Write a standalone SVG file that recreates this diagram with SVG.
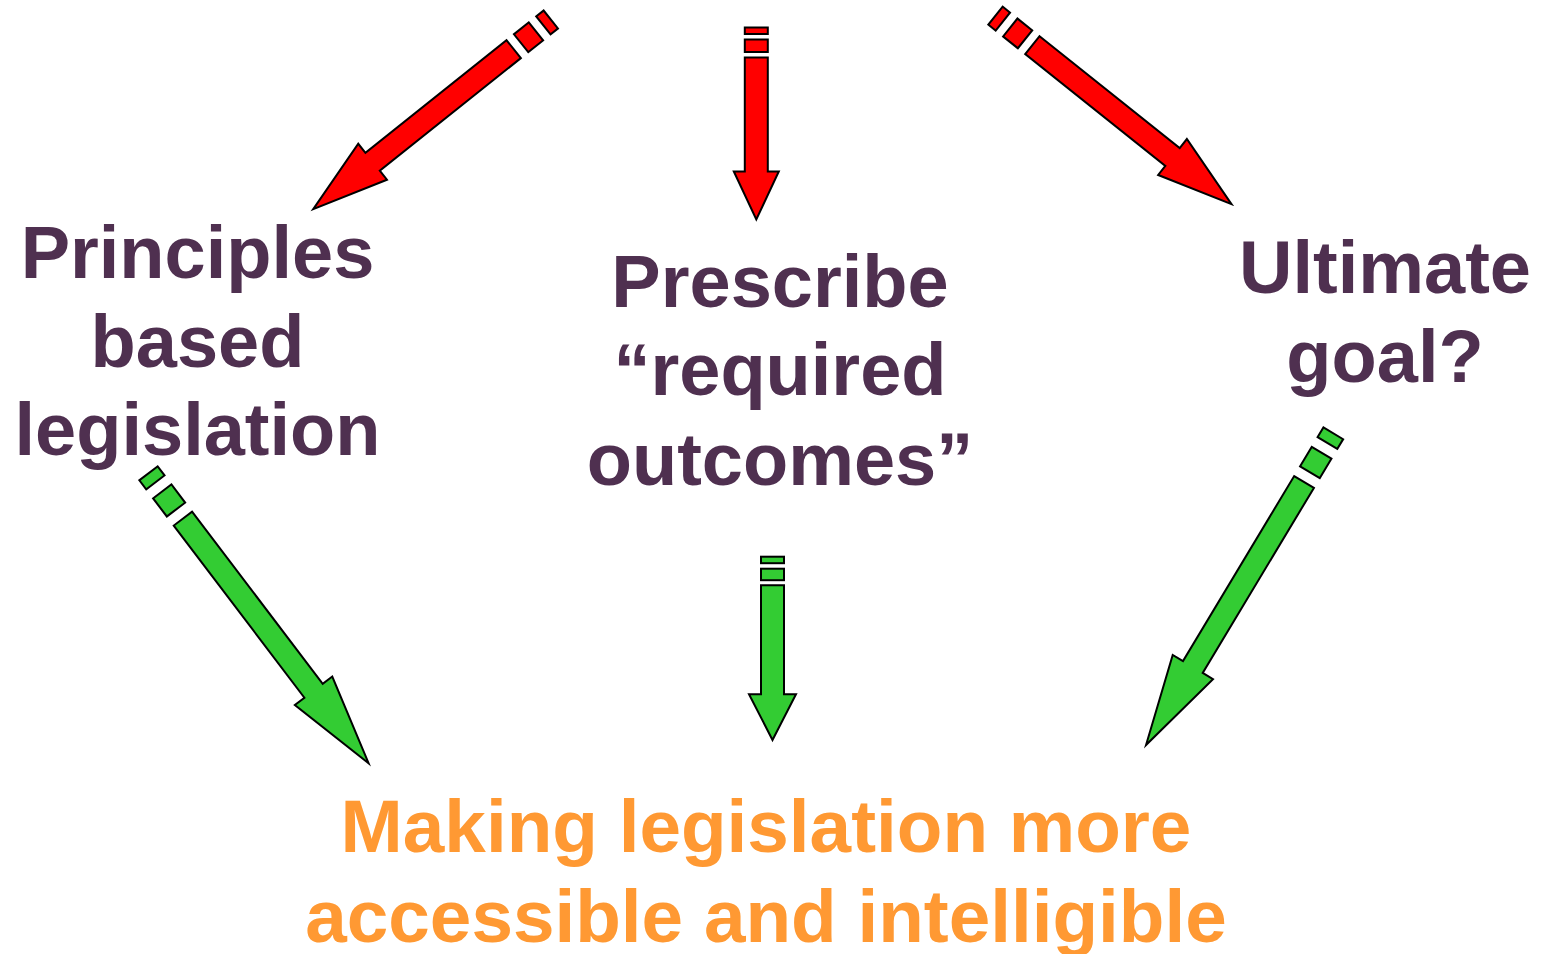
<svg xmlns="http://www.w3.org/2000/svg" width="1541" height="954" viewBox="0 0 1541 954">
<style>
.t{font-family:"Liberation Sans",Arial,sans-serif;font-weight:bold;font-size:74px;text-anchor:middle}
.p{fill:#4F3050}
.o{fill:#FF9933;font-size:74.7px}
.red{fill:#FF0000;stroke:#000;stroke-width:2;stroke-linejoin:miter}
.grn{fill:#33CC33;stroke:#000;stroke-width:2;stroke-linejoin:miter}
</style>
<rect width="1541" height="954" fill="#fff"/>
<g id="connectors">
  <g id="arrow-red-left" class="red" transform="translate(550.8,19.5) rotate(141.4)">
    <rect x="0" y="-11.5" width="9.5" height="23"/>
    <rect x="19" y="-11.5" width="19" height="23"/>
    <polygon points="47.5,-11.5 228,-11.5 228,-23 304,0 228,23 228,11.5 47.5,11.5"/>
  </g>
  <g id="arrow-red-mid" class="red" transform="translate(756.3,27.5) rotate(90)">
    <rect x="0" y="-11.5" width="6.5" height="23"/>
    <rect x="12" y="-11.5" width="12.5" height="23"/>
    <polygon points="30,-11.5 144,-11.5 144,-22.5 192,0 144,22.5 144,11.5 30,11.5"/>
  </g>
  <g id="arrow-red-right" class="red" transform="translate(995.5,15.7) rotate(38.6)">
    <rect x="0" y="-11.5" width="9.4" height="23"/>
    <rect x="18.9" y="-11.5" width="18.9" height="23"/>
    <polygon points="47.2,-11.5 226.5,-11.5 226.5,-23 302,0 226.5,23 226.5,11.5 47.2,11.5"/>
  </g>
  <g id="arrow-green-left" class="grn" transform="translate(148.5,473.3) rotate(52.8)">
    <rect x="0" y="-11.5" width="11.4" height="23"/>
    <rect x="22.75" y="-11.5" width="22.75" height="23"/>
    <polygon points="56.9,-11.5 273,-11.5 273,-23.5 364,0 273,23.5 273,11.5 56.9,11.5"/>
  </g>
  <g id="arrow-green-mid" class="grn" transform="translate(772.5,556.7) rotate(90)">
    <rect x="0" y="-11.5" width="6.5" height="23"/>
    <rect x="12" y="-11.5" width="11.5" height="23"/>
    <polygon points="28.6,-11.5 137.5,-11.5 137.5,-23.5 183.3,0 137.5,23.5 137.5,11.5 28.6,11.5"/>
  </g>
  <g id="arrow-green-right" class="grn" transform="translate(1333.3,433.3) rotate(121)">
    <rect x="0" y="-11.5" width="11.4" height="23"/>
    <rect x="22.7" y="-11.5" width="22.7" height="23"/>
    <polygon points="56.8,-11.5 272.7,-11.5 272.7,-23.5 363.6,0 272.7,23.5 272.7,11.5 56.8,11.5"/>
  </g>
</g>
<g id="node-principles">
  <text class="t p" x="197.5" y="278">Principles</text>
  <text class="t p" x="197.5" y="367">based</text>
  <text class="t p" x="197.5" y="455">legislation</text>
</g>
<g id="node-prescribe">
  <text class="t p" x="780" y="307">Prescribe</text>
  <text class="t p" x="780" y="395">“required</text>
  <text class="t p" x="780" y="485">outcomes”</text>
</g>
<g id="node-ultimate">
  <text class="t p" x="1385" y="293">Ultimate</text>
  <text class="t p" x="1385" y="382">goal?</text>
</g>
<g id="node-making">
  <text class="t o" x="766" y="852">Making legislation more</text>
  <text class="t o" x="766" y="942">accessible and intelligible</text>
</g>
</svg>
